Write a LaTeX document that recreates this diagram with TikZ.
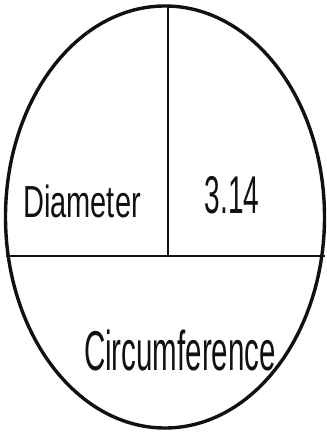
\documentclass[tikz,border=0pt]{standalone}
\usepackage{fontspec}
\setmainfont{Liberation Sans}
\usepackage{tikz}
\usetikzlibrary{calc,positioning}
\definecolor{InkBlack}{HTML}{111111}

\begin{document}
\begin{tikzpicture}[x=1pt, y=-1pt,
    rim/.style={draw=InkBlack, line width=3.4pt},
    divider/.style={draw=InkBlack, line width=2.9pt},
    hand/.style={anchor=base, inner sep=0pt, text=InkBlack}]
  \useasboundingbox (0,0) rectangle (326,435);

  % Outer oval
  \draw[rim] (165,217) ellipse [x radius=159.5, y radius=211];

  % Divider lines
  \coordinate (topPt) at (168,6);
  \coordinate (leftPt) at (6,256);
  \coordinate (rightPt) at (324.5,256);
  \coordinate (midPt) at (168,256);
  \draw[divider] (leftPt) -- (rightPt);
  \draw[divider, line width=2.5pt] (topPt) -- (midPt);

  % Labels
  \node[hand] (diam) at (82,217) {\scalebox{1}[1.55]{\fontsize{29}{29}\selectfont Diameter}};
  \node[hand] (piVal) at (232,214) {\scalebox{1}[1.9]{\fontsize{28}{28}\selectfont 3.14}};
  \node[hand] (circ) at (180,370) {\scalebox{1}[1.9]{\fontsize{29.5}{29.5}\selectfont Circumference}};
\end{tikzpicture}
\end{document}
